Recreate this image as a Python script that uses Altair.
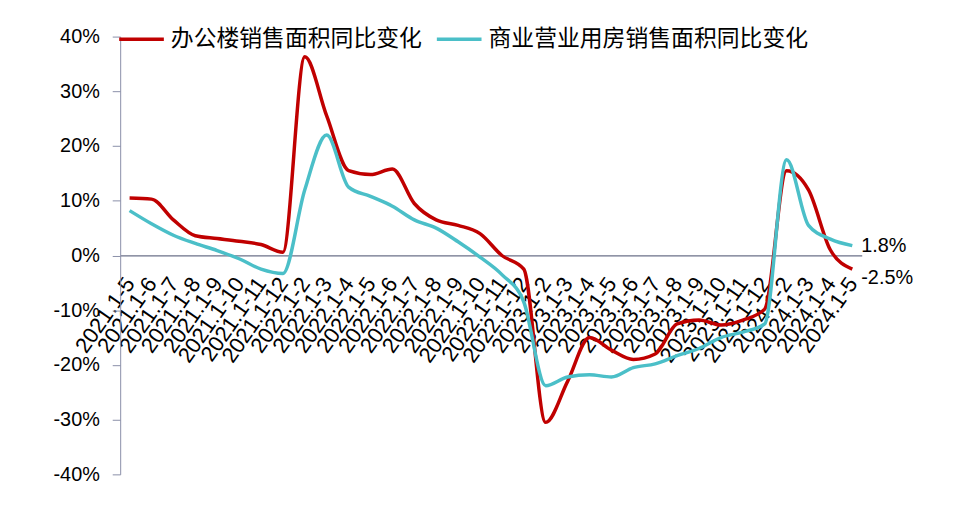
import altair as alt
import pandas as pd

periods = [
    "2021.1-5", "2021.1-6", "2021.1-7", "2021.1-8", "2021.1-9", "2021.1-10", "2021.1-11", "2021.1-12",
    "2022.1-2", "2022.1-3", "2022.1-4", "2022.1-5", "2022.1-6", "2022.1-7", "2022.1-8", "2022.1-9",
    "2022.1-10", "2022.1-11", "2022.1-12",
    "2023.1-2", "2023.1-3", "2023.1-4", "2023.1-5", "2023.1-6", "2023.1-7", "2023.1-8", "2023.1-9",
    "2023.1-10", "2023.1-11", "2023.1-12",
    "2024.1-2", "2024.1-3", "2024.1-4", "2024.1-5",
]

series_names = ["办公楼销售面积同比变化", "商业营业用房销售面积同比变化"]

office = [10.5, 10.3, 6.5, 3.6, 3.1, 2.6, 2.0, 0.6,
          36.3, 25.5, 15.5, 14.8, 15.8, 9.5, 6.5, 5.5, 4.0, 0.0, -2.5,
          -30.5, -23.0, -15.0, -17.3, -19.0, -18.0, -12.5, -11.8, -12.7, -11.8, -9.8,
          15.5, 12.0, 1.0, -2.5]

commercial = [8.2, 5.8, 3.7, 2.2, 0.9, -0.6, -2.5, -3.3,
              12.0, 22.0, 12.5, 10.8, 9.0, 6.5, 5.0, 2.5, -0.3, -3.5, -8.5,
              -23.8, -22.2, -21.8, -22.2, -20.5, -19.8, -18.3, -17.0, -15.0, -14.0, -12.5,
              17.5, 5.5, 3.0, 1.8]

colors = ["#C00000", "#4BBFC8"]

df = pd.DataFrame({
    "period": periods * 2,
    "series": [series_names[0]] * len(periods) + [series_names[1]] * len(periods),
    "value": office + commercial,
})

FONT = "Liberation Sans"

x_enc = alt.X(
    "period:N",
    sort=periods,
    scale=alt.Scale(type="point", padding=0.43),
    axis=alt.Axis(
        title=None, labelAngle=-55, labelAlign="right", labelBaseline="middle",
        labelPadding=24, ticks=False, domainColor="#6B7089", domainWidth=1.3,
        offset=-220.5, labelFont=FONT, labelFontSize=22, labelColor="black",
        labelOverlap=False, grid=False,
    ),
)

y_enc = alt.Y(
    "value:Q",
    scale=alt.Scale(domain=[-40, 40], nice=False),
    axis=alt.Axis(
        values=list(range(-40, 41, 10)), labelExpr="datum.value + '%'", title=None,
        grid=False, tickSize=8, tickColor="#8A8FA8", domainColor="#8A8FA8",
        labelPadding=13, labelFontSize=20, labelFont=FONT, labelColor="black",
    ),
)

base = alt.Chart(df)

lines = base.mark_line(interpolate="monotone", strokeWidth=3.5).encode(
    x=x_enc,
    y=y_enc,
    color=alt.Color(
        "series:N",
        sort=series_names,
        scale=alt.Scale(domain=series_names, range=colors),
        legend=alt.Legend(
            title=None, orient="none", legendX=-3, legendY=-22, direction="horizontal",
            symbolType="stroke", symbolSize=2025, symbolStrokeWidth=3.5,
            labelFontSize=23, labelFont="Noto Sans CJK SC", labelColor="black",
            labelLimit=0, columnPadding=8, labelOffset=5, padding=0,
        ),
    ),
)

last = periods[-1]


def end_label(name, dy):
    return base.transform_filter(
        (alt.datum.period == last) & (alt.datum.series == name)
    ).transform_calculate(
        label="toString(datum.value) + '%'"
    ).mark_text(
        align="left", baseline="middle", dx=9, dy=dy, fontSize=20, font=FONT, color="black"
    ).encode(
        x=alt.X("period:N", sort=periods),
        y=alt.Y("value:Q"),
        text="label:N",
    )


chart = alt.layer(
    lines,
    end_label(series_names[0], 9),
    end_label(series_names[1], 0),
).properties(
    width=747,
    height=441,
    autosize=alt.AutoSizeParams(type="none"),
    padding={"left": 113, "top": 27, "right": 100, "bottom": 22},
    background="white",
).configure_view(stroke=None)

chart.save("out.html", embed_options={"renderer": "svg", "actions": False})
